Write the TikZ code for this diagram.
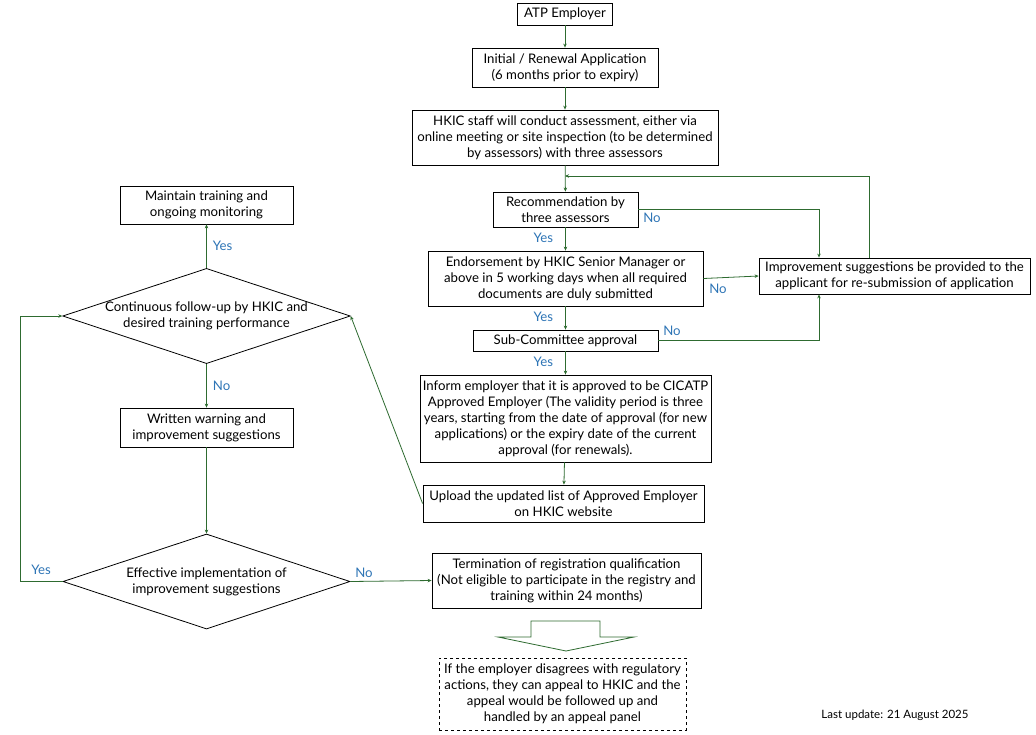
\documentclass[tikz,border=0pt]{standalone}
\usepackage{fontspec}
\setmainfont{Lato}
\usetikzlibrary{shapes.geometric,arrows.meta}
\definecolor{lgreen}{HTML}{2E6B30}
\definecolor{lblue}{HTML}{2E75B6}
\tikzset{
  box/.style={draw=black, line width=0.8pt, fill=white, align=center, inner sep=2pt,
    font=\fontsize{13.2}{16}\selectfont},
  dia/.style={draw=black, line width=0.8pt, diamond, aspect=3.02, align=center, inner sep=0pt,
    minimum width=287pt, minimum height=95pt, font=\fontsize{13.2}{16}\selectfont},
  conn/.style={draw=lgreen, line width=0.8pt, -{Stealth[length=4pt,width=3.5pt]}},
  plain/.style={draw=lgreen, line width=0.8pt},
  lab/.style={text=lblue, font=\fontsize{13.2}{16}\selectfont, inner sep=0pt},
}
\begin{document}
\begin{tikzpicture}[x=1pt,y=-1pt]
\useasboundingbox (0,0) rectangle (1036,734);
\fill[white] (0,0) rectangle (1036,734);

\node[box, minimum width=95pt, minimum height=22pt] (atp) at (565,14) {ATP Employer};
\node[box, minimum width=186pt, minimum height=39pt] (init) at (565,67.5) {Initial / Renewal Application\\(6 months prior to expiry)};
\node[box, minimum width=306pt, minimum height=55pt] (hkic) at (565,137.5) {HKIC staff will conduct assessment, either via\\online meeting or site inspection (to be determined\\by assessors) with three assessors};
\node[box, minimum width=145pt, minimum height=35pt] (rec) at (565.5,209.5) {Recommendation by\\three assessors};
\node[box, minimum width=275pt, minimum height=55pt] (endo) at (565.5,278.5) {Endorsement by HKIC Senior Manager or\\above in 5 working days when all required\\documents are duly submitted};
\node[box, minimum width=185pt, minimum height=21pt] (sub) at (565.5,340.5) {Sub-Committee approval};
\node[box, minimum width=291pt, minimum height=87pt] (inform) at (565.5,418.5) {Inform employer that it is approved to be CICATP\\Approved Employer (The validity period is three\\years, starting from the date of approval (for new\\applications) or the expiry date of the current\\approval (for renewals).};
\node[box, minimum width=281pt, minimum height=37pt] (upload) at (563.5,503.5) {Upload the updated list of Approved Employer\\on HKIC website};
\node[box, minimum width=271pt, minimum height=36pt] (imp) at (894.5,276) {Improvement suggestions be provided to the\\applicant for re-submission of application};

\node[box, minimum width=173pt, minimum height=38pt] (maint) at (206.5,205) {Maintain training and\\ongoing monitoring};
\node[dia] (d1) at (206.5,316) {Continuous follow-up by HKIC and\\desired training performance};
\node[box, minimum width=173pt, minimum height=39pt] (warn) at (206.5,427.5) {Written warning and\\improvement suggestions};
\node[dia] (d2) at (206.5,581.5) {Effective implementation of\\improvement suggestions};
\node[box, minimum width=269pt, minimum height=55pt] (term) at (566.5,580.5) {Termination of registration qualification\\(Not eligible to participate in the registry and\\training within 24 months)};
\node[box, dashed, minimum width=247pt, minimum height=72pt] (appeal) at (562.5,694) {If the employer disagrees with regulatory\\actions, they can appeal to HKIC and the\\appeal would be followed up and\\handled by an appeal panel};
\node[font=\fontsize{11.5}{13}\selectfont, inner sep=0pt] (upd) at (895,715) {Last update: 21 August 2025};

% main vertical flow
\draw[conn] (atp) -- (init);
\draw[conn] (init) -- (hkic);
\draw[conn] (hkic) -- (rec);
\draw[conn] (rec) -- node[lab, left=12pt, pos=0.45] {Yes} (endo);
\draw[conn] (endo) -- node[lab, left=12pt, pos=0.45] {Yes} (sub);
\draw[conn] (sub) -- node[lab, left=12pt, pos=0.45] {Yes} (inform);
\draw[conn] (inform) -- (upload);

% No branches
\draw[conn] (rec.east) -| ([xshift=-75.5pt]imp.north);
\node[lab] (no1) at (652,218) {No};
\draw[conn] (endo.east) -- (imp.west);
\node[lab] (no2) at (718,289) {No};
\draw[conn] (sub.east) -| ([xshift=-75.5pt]imp.south);
\node[lab] (no3) at (672,331) {No};

% loop back
\coordinate (lpA) at (869,176);
\coordinate (lpB) at (565,176);
\draw[conn] ([xshift=-25.5pt]imp.north) -- (lpA) -- (lpB);

% upload to diamond 1
\draw[conn] (upload.west) -- (d1.east);

% left part
\draw[conn] (d1.north) -- node[lab, right=6pt] {Yes} (maint.south);
\draw[conn] (d1.south) -- node[lab, right=6pt] {No} (warn.north);
\draw[conn] (warn.south) -- (d2.north);
\coordinate (lpC) at (20,581.5);
\coordinate (lpD) at (20,316);
\draw[conn] (d2.west) -- (lpC) -- (lpD) -- (d1.west);
\node[lab] (yes4) at (41,570) {Yes};
\draw[conn] (d2.east) -- (term.west);
\node[lab] (no4) at (364,573) {No};

% hollow arrow
\draw[lgreen, line width=0.8pt, fill=white]
  (531,621) -- (600,621) -- (600,637) -- (634,637) -- (566,651) -- (498,637) -- (531,637) -- cycle;
\end{tikzpicture}
\end{document}
